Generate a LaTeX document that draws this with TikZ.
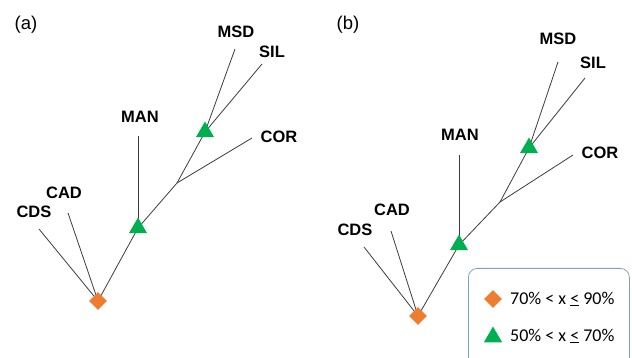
\documentclass[tikz,border=0pt]{standalone}
\usepackage{fontspec}
\setmainfont{Liberation Sans}
\newfontfamily\legfont{Carlito}
\usetikzlibrary{shapes}
\usetikzlibrary{positioning}

\definecolor{orangemark}{RGB}{237,125,49}
\definecolor{greenmark}{RGB}{0,176,80}
\definecolor{branchgray}{RGB}{60,60,60}
\definecolor{legendedge}{RGB}{130,160,195}

\tikzstyle{branch}=[draw=branchgray,line width=0.8pt]
\tikzstyle{taxon}=[font=\fontsize{16.5}{18}\selectfont\bfseries,inner sep=0pt]
\tikzstyle{panel}=[font=\fontsize{18.5}{20}\selectfont,inner sep=0pt]
\tikzstyle{highsup}=[diamond,fill=orangemark,inner sep=0pt,minimum size=18pt]
\tikzstyle{midsup}=[regular polygon,regular polygon sides=3,fill=greenmark,
        inner sep=0pt,minimum size=21pt]
\tikzstyle{legbox}=[draw=legendedge,line width=0.8pt,rounded corners=9pt,
        anchor=north west,minimum width=161pt,minimum height=100pt]
\tikzstyle{legtext}=[font=\legfont\fontsize{18}{20}\selectfont,anchor=west,inner sep=0pt]

\begin{document}
\begin{tikzpicture}[x=1pt,y=-1pt]
\useasboundingbox (0,0) rectangle (632,358);

% panel (a)
\node[panel] (pa) at (26,25) {(a)};
\coordinate (ra) at (98,301);
\coordinate (t1a) at (138,228);
\coordinate (ja) at (177,183);
\coordinate (t2a) at (205,132);
\coordinate (cdsa) at (39,229);
\coordinate (cada) at (68,213);
\coordinate (mana) at (138,136);
\coordinate (cora) at (252,138);
\coordinate (msda) at (235,49);
\coordinate (sila) at (262,64);
\node[taxon] (lcdsa) at (34,212) {CDS};
\node[taxon] (lcada) at (64,193) {CAD};
\node[taxon] (lmana) at (140,117) {MAN};
\node[taxon] (lcora) at (279,137) {COR};
\node[taxon] (lmsda) at (236,32) {MSD};
\node[taxon] (lsila) at (272,52) {SIL};

\draw[branch] (ra) -- (cdsa);
\draw[branch] (ra) -- (cada);
\draw[branch] (ra) -- (t1a) -- (ja) -- (t2a);
\draw[branch] (t1a) -- (mana);
\draw[branch] (ja) -- (cora);
\draw[branch] (t2a) -- (msda);
\draw[branch] (t2a) -- (sila);

\node[highsup] (mra) at (ra) {};
\node[midsup] (mt1a) at (t1a) {};
\node[midsup] (mt2a) at (t2a) {};

% panel (b)
\node[panel] (pb) at (348,25) {(b)};
\coordinate (rb) at (418,316);
\coordinate (t1b) at (459,245);
\coordinate (jb) at (500,202);
\coordinate (t2b) at (529,148);
\coordinate (cdsb) at (364,247);
\coordinate (cadb) at (391,231);
\coordinate (manb) at (459,155);
\coordinate (corb) at (573,155);
\coordinate (msdb) at (558,62);
\coordinate (silb) at (585,78);
\node[taxon] (lcdsb) at (355,230) {CDS};
\node[taxon] (lcadb) at (392,210) {CAD};
\node[taxon] (lmanb) at (460,135) {MAN};
\node[taxon] (lcorb) at (600,153) {COR};
\node[taxon] (lmsdb) at (558,39) {MSD};
\node[taxon] (lsilb) at (593,63) {SIL};

\draw[branch] (rb) -- (cdsb);
\draw[branch] (rb) -- (cadb);
\draw[branch] (rb) -- (t1b) -- (jb) -- (t2b);
\draw[branch] (t1b) -- (manb);
\draw[branch] (jb) -- (corb);
\draw[branch] (t2b) -- (msdb);
\draw[branch] (t2b) -- (silb);

\node[highsup] (mrb) at (rb) {};
\node[midsup] (mt1b) at (t1b) {};
\node[midsup] (mt2b) at (t2b) {};

% legend
\node[legbox] (legend) at (468,268) {};
\node[highsup] (kdiam) at (493,299) {};
\node[legtext] (tdiam) at (510,299) {70\% < x \underline{<} 90\%};
\node[midsup] (ktri) at (493,337) {};
\node[legtext] (ttri) at (510,336) {50\% < x \underline{<} 70\%};

\end{tikzpicture}
\end{document}
